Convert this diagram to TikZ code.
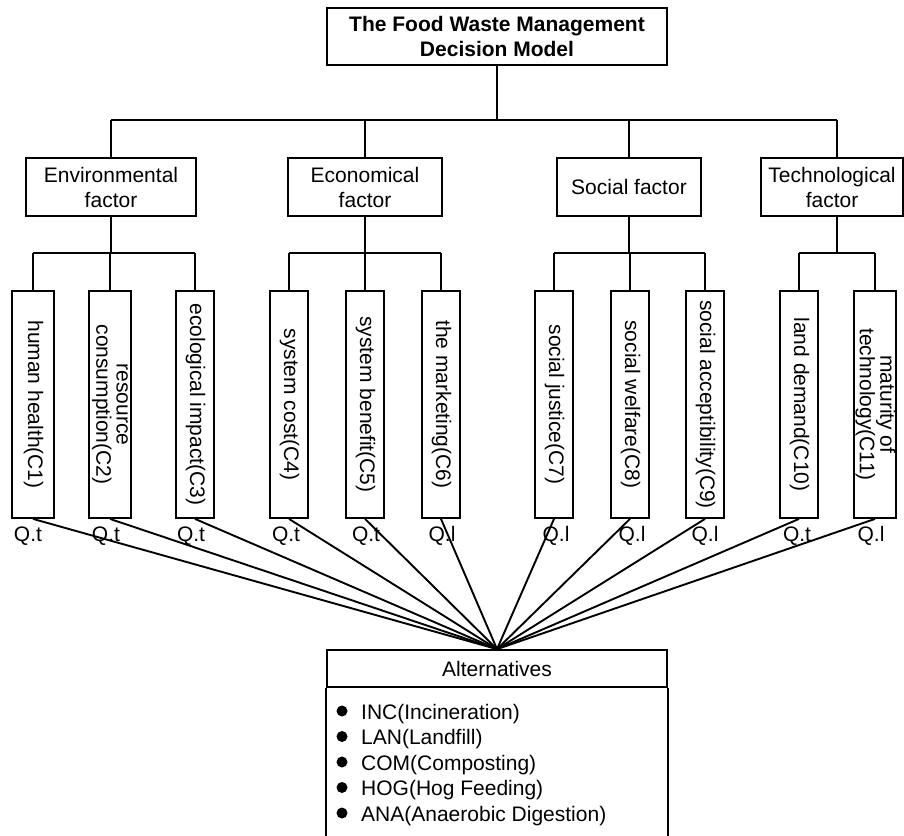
\documentclass[tikz,border=0pt]{standalone}
\usepackage{fontspec}
\setmainfont{Liberation Sans}
\usepackage{graphicx}
\newcommand{\vtext}[1]{\rotatebox{-90}{\renewcommand{\arraystretch}{0.7}\begin{tabular}{@{}c@{}}#1\end{tabular}}}
\begin{document}
\begin{tikzpicture}[x=1pt,y=-1pt,
  font=\fontsize{21}{25}\selectfont,
  box/.style={draw=black, line width=1.8pt, inner sep=0pt, align=center},
  crit/.style={box, minimum height=227pt},
  conn/.style={line width=1.9pt, black},
  bus/.style={line width=2.6pt, black},
  qlab/.style={inner sep=0pt},
  bul/.style={circle, fill=black, inner sep=0pt, minimum size=11pt},
  item/.style={anchor=base west, inner sep=0pt},
]
\useasboundingbox (0,0) rectangle (904,835);
% top
\node[box, minimum width=340pt, minimum height=57pt, font=\fontsize{21}{25}\selectfont\bfseries] (top) at (497,36.5) {The Food Waste Management\\Decision Model};
% factors
\node[box, minimum width=170pt, minimum height=58pt] (env) at (111,187) {Environmental\\factor};
\node[box, minimum width=154pt, minimum height=58pt] (eco) at (365,187) {Economical\\factor};
\node[box, minimum width=144pt, minimum height=58pt] (soc) at (629,187) {Social factor};
\node[box, minimum width=142pt, minimum height=58pt] (tec) at (832,187) {Technological\\factor};
% main bus
\coordinate (busL) at (111,120);
\coordinate (busR) at (837,120);
\draw[bus] (busL) -- (busR);
\draw[conn] (top.south) -- (top.south |- busL);
\draw[conn] (busL) -- (busL |- env.north);
\draw[conn] (eco.north |- busL) -- (eco.north);
\draw[conn] (soc.north |- busL) -- (soc.north);
\draw[conn] (busR) -- (busR |- tec.north);
% criteria
\node[crit, minimum width=42pt] (c1) at (33,404.5) {\vtext{human health(C1)}};
\node[crit, minimum width=42pt] (c2) at (110,404.5) {\vtext{resource\\consumption(C2)}};
\node[crit, minimum width=38pt] (c3) at (195,404.5) {\vtext{ecological impact(C3)}};
\node[crit, minimum width=38pt] (c4) at (289,404.5) {\vtext{system cost(C4)}};
\node[crit, minimum width=38pt] (c5) at (365,404.5) {\vtext{system benefit(C5)}};
\node[crit, minimum width=38pt] (c6) at (441,404.5) {\vtext{the marketing(C6)}};
\node[crit, minimum width=38pt] (c7) at (554,404.5) {\vtext{social justice(C7)}};
\node[crit, minimum width=38pt] (c8) at (630,404.5) {\vtext{social welfare(C8)}};
\node[crit, minimum width=38pt] (c9) at (705,404.5) {\vtext{social acceptibility(C9)}};
\node[crit, minimum width=38pt] (c10) at (799,404.5) {\vtext{land demand(C10)}};
\node[crit, minimum width=42pt] (c11) at (875,404.5) {\vtext{maturity of\\technology(C11)}};
% sub buses
\coordinate (s1) at (111,253);
\coordinate (s2) at (365,253);
\coordinate (s3) at (629,253);
\coordinate (s4) at (837,253);
\draw[conn] (env.south) -- (s1);
\draw[conn] (eco.south) -- (s2);
\draw[conn] (soc.south) -- (s3);
\draw[conn] (tec.south -| s4) -- (s4);
\draw[conn] (c1.north |- s1) -- (c3.north |- s1);
\draw[conn] (c4.north |- s2) -- (c6.north |- s2);
\draw[conn] (c7.north |- s3) -- (c9.north |- s3);
\draw[conn] (c10.north |- s4) -- (c11.north |- s4);
\foreach \i/\s in {1/s1,2/s1,3/s1,4/s2,5/s2,6/s2,7/s3,8/s3,9/s3,10/s4,11/s4}
  \draw[conn] (c\i.north |- \s) -- (c\i.north);
% Q labels
\node[qlab] (q1) at (28,536) {Q.t};
\node[qlab] (q2) at (106,536) {Q.t};
\node[qlab] (q3) at (191,536) {Q.t};
\node[qlab] (q4) at (286,536) {Q.t};
\node[qlab] (q5) at (366,536) {Q.t};
\node[qlab] (q6) at (442,536) {Q.l};
\node[qlab] (q7) at (556,536) {Q.l};
\node[qlab] (q8) at (632,536) {Q.l};
\node[qlab] (q9) at (705,536) {Q.l};
\node[qlab] (q10) at (797,536) {Q.t};
\node[qlab] (q11) at (871,536) {Q.l};
% alternatives
\node[box, minimum width=340pt, minimum height=37pt] (alt) at (497,668.5) {Alternatives};
\coordinate (conv) at (alt.north);
\foreach \i in {1,...,11}
  \draw[conn] (c\i.south) -- (conv);
\coordinate (altBL) at (327,845);
\coordinate (altBR) at (667,845);
\draw[line width=1.8pt] (alt.south west) -- (alt.south west |- altBL);
\draw[line width=1.8pt] (alt.south east) -- (alt.south east |- altBR);
\foreach \t [count=\k from 0] in {INC(Incineration),LAN(Landfill),COM(Composting),HOG(Hog Feeding),ANA(Anaerobic Digestion)} {
  \node[bul] (b\k) at (342,711+25.5*\k) {};
  \node[item] (t\k) at (361,719+25.5*\k) {\t};
}
\end{tikzpicture}
\end{document}
